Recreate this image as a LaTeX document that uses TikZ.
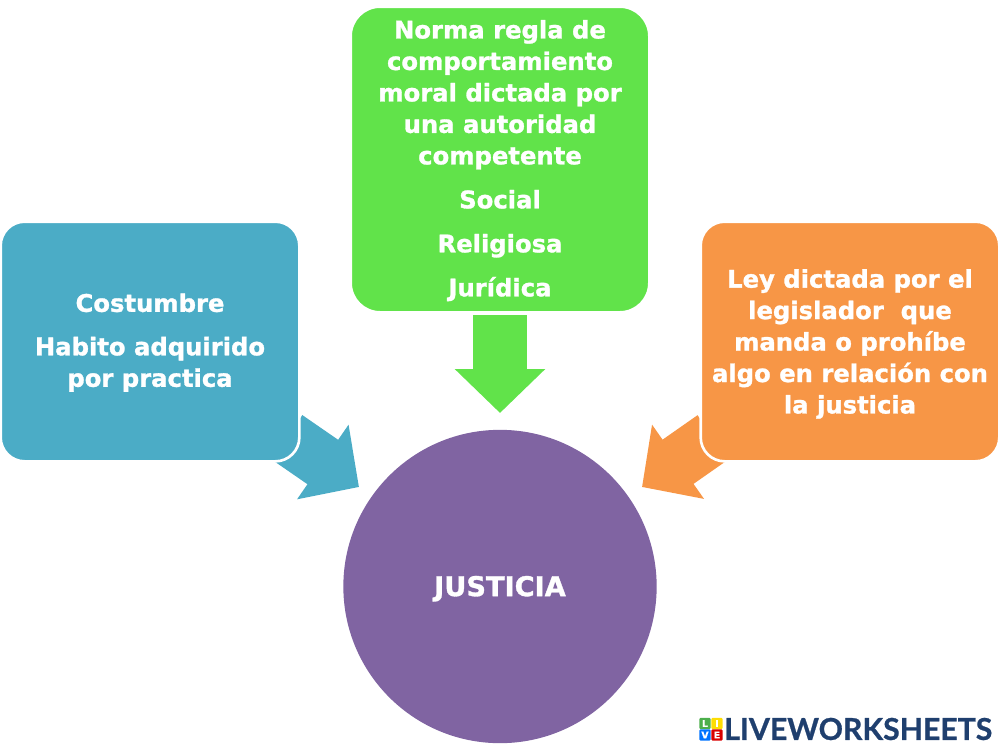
\documentclass[tikz,border=0pt]{standalone}
\usepackage{fontspec}
\setmainfont[BoldFeatures={FakeBold=1.2}]{DejaVu Sans}
\newfontfamily\logofont[BoldFeatures={FakeBold=0.8}]{Lato}
\usetikzlibrary{arrows.meta,backgrounds}
\definecolor{cblue}{HTML}{4BACC6}
\definecolor{cgreen}{HTML}{61E34A}
\definecolor{corange}{HTML}{F79646}
\definecolor{cpurple}{HTML}{8064A2}
\definecolor{clogo}{HTML}{1F3F6E}
\tikzset{x=0.75pt,y=-0.75pt,
  box/.style={rounded corners=18pt,fill=#1,draw=white,line width=2pt,text=white,align=center,font=\fontsize{18.2}{23.6}\selectfont\bfseries,inner sep=0pt},
  blockarrow/.style={draw=#1,line width=40.5pt,-{Triangle[length=33pt,width=66pt]}},
  sq/.style={fill=#1,rounded corners=0.8pt,text=white,font=\fontsize{7}{7}\selectfont\bfseries,inner sep=0pt,minimum size=8.4pt}
}
\begin{document}
\begin{tikzpicture}
\useasboundingbox (0,0) rectangle (1000,750);
\node[box=cblue,minimum width=224pt,minimum height=179.75pt] (left) at (150,341.5) {\rule{0pt}{15.5pt}Costumbre\\[9pt]Habito adquirido\\por practica};
\node[box=cgreen,rounded corners=22pt,minimum width=224pt,minimum height=229.25pt] (top) at (500,159.5) {\rule{0pt}{15.5pt}Norma regla de\\comportamiento\\moral dictada por\\una autoridad\\competente\\[9.4pt]Social\\[9.4pt]Religiosa\\[9.4pt]Jurídica};
\node[box=corange,minimum width=224pt,minimum height=179.75pt] (right) at (850,341.5) {\rule{0pt}{17.5pt}Ley dictada por el\\legislador\ \ que\\manda o prohíbe\\algo en relación con\\la justicia};
\node[circle,fill=cpurple,minimum size=235pt,inner sep=0pt,text=white,font=\fontsize{20.4}{24}\selectfont\bfseries] (just) at (500,586.5) {\rule{0pt}{18.5pt}JUSTICIA};
\coordinate (lt) at (287,437.3);
\coordinate (lh) at (359,487);
\coordinate (rt) at (713,437.3);
\coordinate (rh) at (642,487);
\coordinate (tt) at (500,315);
\coordinate (th) at (500,413);
\begin{scope}[on background layer]
\draw[blockarrow=cblue] (lt) -- (lh);
\draw[blockarrow=corange] (rt) -- (rh);
\draw[blockarrow=cgreen] (tt) -- (th);
\end{scope}
\node[sq={green!55!black!70!white}] (l1) at (705,723.5) {L};
\node[sq={yellow!80!orange}] (l2) at (717,723.5) {I};
\node[sq={blue!55!cyan}] (l3) at (705,735) {V};
\node[sq={red!85!black}] (l4) at (717,735) {E};
\node[anchor=west,inner sep=0pt,text=clogo,font=\logofont\fontsize{22.65}{22.65}\selectfont\bfseries] (logo) at (724,729) {LIVEWORKSHEETS};
\end{tikzpicture}
\end{document}
